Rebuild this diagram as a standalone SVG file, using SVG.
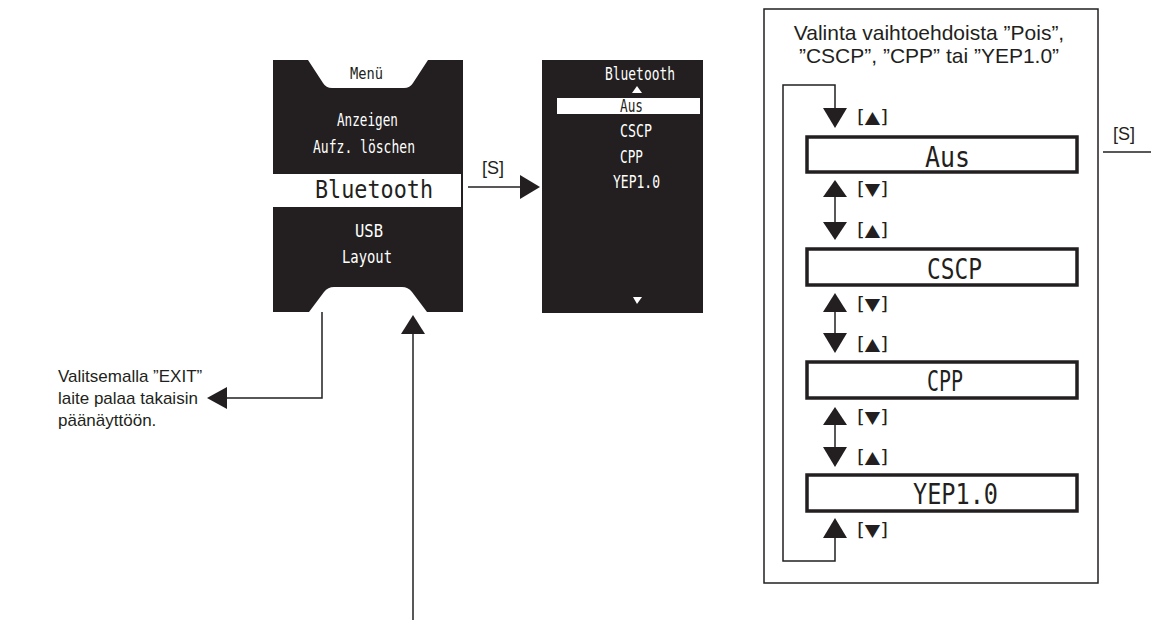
<svg xmlns="http://www.w3.org/2000/svg" width="1151" height="620" viewBox="0 0 1151 620">
<defs>
<style>
.lcd{fill:#231f20}
.w{fill:#fff}
.lt{font-family:"DejaVu Sans Mono",monospace;fill:#fff}
.bt{font-family:"DejaVu Sans Mono",monospace;fill:#231f20}
.ln{fill:none;stroke:#231f20;stroke-width:1.5}
.ah{fill:#231f20}
.tx{font-family:"Liberation Sans",Arial,sans-serif;fill:#231f20}
.box{fill:#fff;stroke:#231f20;stroke-width:3.5}
.lb{font-family:"DejaVu Sans Condensed","DejaVu Sans",sans-serif;fill:#231f20;font-size:17px}
</style>
</defs>
<rect width="1151" height="620" fill="#fff"/>

<g id="menu-screen">
<rect class="lcd" x="273" y="60" width="190" height="252"/>
<path class="w" d="M308,60 H428 L413,83 Q410,88 404,88 H332 Q326,88 323,83 Z"/>
<path class="w" d="M309,312 L324,292 Q328,287 334,287 H402 Q408,287 412,292 L427,312 Z"/>
<text class="bt" x="350" y="79" font-size="16" textLength="33" lengthAdjust="spacingAndGlyphs">Menü</text>
<text class="lt" x="337" y="126" font-size="17" textLength="61" lengthAdjust="spacingAndGlyphs">Anzeigen</text>
<text class="lt" x="313" y="153" font-size="17" textLength="102" lengthAdjust="spacingAndGlyphs">Aufz. löschen</text>
<rect class="w" x="273" y="174" width="188" height="33"/>
<text class="bt" x="315" y="198" font-size="25" textLength="118" lengthAdjust="spacingAndGlyphs">Bluetooth</text>
<text class="lt" x="355" y="237" font-size="17" textLength="28" lengthAdjust="spacingAndGlyphs">USB</text>
<text class="lt" x="342" y="263" font-size="17" textLength="50" lengthAdjust="spacingAndGlyphs">Layout</text>
</g>

<g id="bluetooth-screen">
<rect class="lcd" x="542" y="60" width="161" height="253"/>
<text class="lt" x="605" y="80" font-size="17" textLength="70" lengthAdjust="spacingAndGlyphs">Bluetooth</text>
<path class="w" d="M637,86 L642,93 H632 Z"/>
<rect class="w" x="557" y="98" width="143" height="16"/>
<text class="bt" x="620" y="112" font-size="17" textLength="23" lengthAdjust="spacingAndGlyphs">Aus</text>
<text class="lt" x="620" y="137" font-size="17" textLength="32" lengthAdjust="spacingAndGlyphs">CSCP</text>
<text class="lt" x="620" y="163" font-size="17" textLength="23" lengthAdjust="spacingAndGlyphs">CPP</text>
<text class="lt" x="613" y="188" font-size="17" textLength="47" lengthAdjust="spacingAndGlyphs">YEP1.0</text>
<path class="w" d="M633,297 H642 L637,304 Z"/>
</g>

<g id="selection-panel">
<rect x="764" y="9" width="334" height="574" fill="none" stroke="#231f20" stroke-width="1.5"/>
<text class="tx" x="929" y="40" font-size="21" text-anchor="middle">Valinta vaihtoehdoista ”Pois”,</text>
<text class="tx" x="929" y="63" font-size="21" text-anchor="middle">”CSCP”, ”CPP” tai ”YEP1.0”</text>
</g>

<g id="opt-aus">
<rect class="box" x="807" y="137" width="270" height="35"/>
<text class="bt" x="925" y="167" font-size="29" textLength="45" lengthAdjust="spacingAndGlyphs">Aus</text>
</g>
<g id="opt-cscp">
<rect class="box" x="807" y="249" width="270" height="36"/>
<text class="bt" x="927" y="279" font-size="29" textLength="55" lengthAdjust="spacingAndGlyphs">CSCP</text>
</g>
<g id="opt-cpp">
<rect class="box" x="807" y="362" width="270" height="36"/>
<text class="bt" x="927" y="391" font-size="29" textLength="36" lengthAdjust="spacingAndGlyphs">CPP</text>
</g>
<g id="opt-yep">
<rect class="box" x="807" y="475" width="270" height="36"/>
<text class="bt" x="913" y="504" font-size="29" textLength="85" lengthAdjust="spacingAndGlyphs">YEP1.0</text>
</g>

<g id="exit-note">
<text class="tx" x="58" y="382" font-size="17">Valitsemalla ”EXIT”</text>
<text class="tx" x="58" y="404" font-size="17">laite palaa takaisin</text>
<text class="tx" x="58" y="426" font-size="17">päänäyttöön.</text>
</g>

<g id="connectors">
<path class="ln" d="M468,187 H522"/>
<path class="ah" d="M540,187 L520,175 V199 Z"/>
<text class="tx" x="482" y="174" font-size="18">[S]</text>
<path class="ln" d="M322,312 V398 H225"/>
<path class="ah" d="M207,398 L227,387 V409 Z"/>
<path class="ln" d="M413,620 V332"/>
<path class="ah" d="M413,315 L401,334 H425 Z"/>
<path class="ln" d="M1103,152 H1151"/>
<text class="tx" x="1113" y="140" font-size="18">[S]</text>
<path class="ln" d="M835,538 V561 H783 V85 H835 V110"/>
<path class="ah" d="M835,128 L823,108 H847 Z"/>
<path class="ln" d="M835,195 V224"/>
<path class="ah" d="M835,180 L823,197 H847 Z"/>
<path class="ah" d="M835,240 L823,222 H847 Z"/>
<path class="ln" d="M835,310 V335"/>
<path class="ah" d="M835,293 L823,312 H847 Z"/>
<path class="ah" d="M835,353 L823,333 H847 Z"/>
<path class="ln" d="M835,423 V449"/>
<path class="ah" d="M835,407 L823,425 H847 Z"/>
<path class="ah" d="M835,467 L823,447 H847 Z"/>
<path class="ah" d="M835,518 L823,538 H847 Z"/>
<text class="lb" x="857" y="123" textLength="31" lengthAdjust="spacingAndGlyphs">[▲]</text>
<text class="lb" x="857" y="195" textLength="31" lengthAdjust="spacingAndGlyphs">[▼]</text>
<text class="lb" x="857" y="236" textLength="31" lengthAdjust="spacingAndGlyphs">[▲]</text>
<text class="lb" x="857" y="310" textLength="31" lengthAdjust="spacingAndGlyphs">[▼]</text>
<text class="lb" x="857" y="350" textLength="31" lengthAdjust="spacingAndGlyphs">[▲]</text>
<text class="lb" x="857" y="423" textLength="31" lengthAdjust="spacingAndGlyphs">[▼]</text>
<text class="lb" x="857" y="463" textLength="31" lengthAdjust="spacingAndGlyphs">[▲]</text>
<text class="lb" x="857" y="536" textLength="31" lengthAdjust="spacingAndGlyphs">[▼]</text>
</g>
</svg>
